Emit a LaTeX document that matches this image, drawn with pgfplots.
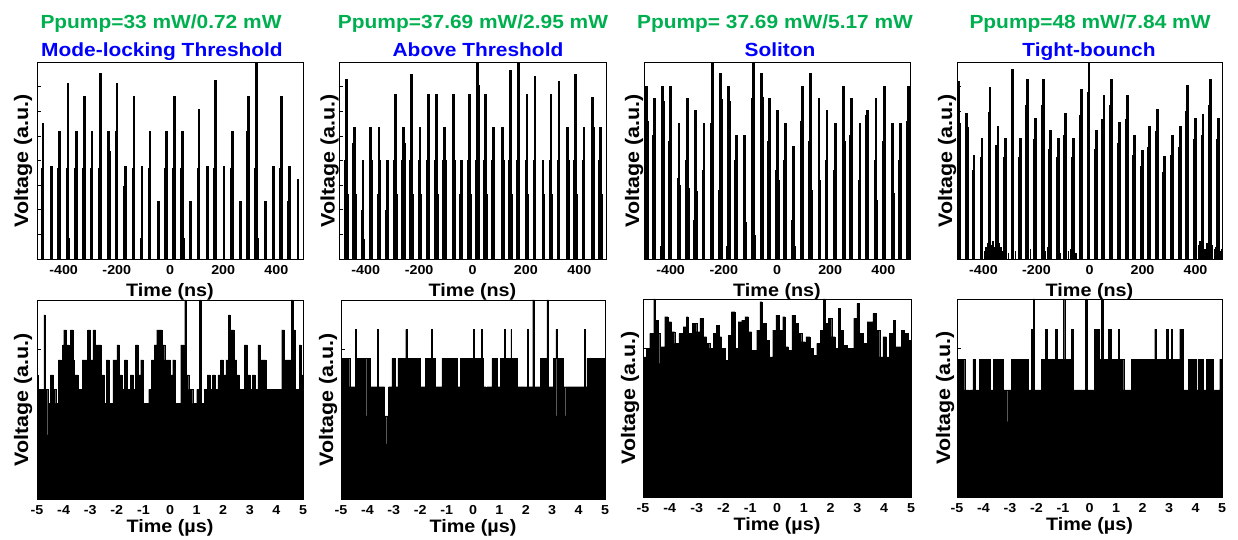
\documentclass[border=0pt]{standalone}
\usepackage{fontspec}
\setmainfont{Liberation Sans}[FakeStretch=1.1]
\usepackage{pgfplots}
\pgfplotsset{compat=1.18}
\definecolor{tgreen}{RGB}{0,176,80}
\definecolor{tblue}{RGB}{0,0,255}
\pgfplotsset{
  panel/.style={scale only axis, anchor=south west, axis line style={line width=0.8pt},
    tick align=inside, ytick pos=left, xtick pos=bottom, yticklabels={},
    xtick style={draw=none}, ytick style={line width=0.6pt, black}, major tick length=4pt,
    ymin=0,
    xticklabel style={font=\fontsize{13}{15}\selectfont\bfseries, anchor=base, yshift=-16pt},
    ylabel={Voltage (a.u.)},
    ylabel style={font=\fontsize{19.5}{22}\selectfont\bfseries, anchor=base},
    xlabel style={font=\fontsize{18}{21}\selectfont\bfseries, at={(axis description cs:0.5,0)}, anchor=base},
  },
  toprow/.style={panel, height=197pt, xmin=-500, xmax=500, ymax=1,
    xtick={-400,-200,0,200,400}, xticklabels={-400,-200,0,200,400},
    ytick={0.125,0.25,0.375,0.5,0.625,0.75,0.875},
    xlabel={Time (ns)}, xlabel style={yshift=-38pt}},
  botrow/.style={panel, xmin=-5, xmax=5, xtick={-5,-4,...,5}, xticklabels={-5,-4,-3,-2,-1,0,1,2,3,4,5},
    xlabel={Time (µs)}, xlabel style={yshift=-34pt}},
  pulse/.style={ycomb, black, line width=2.8pt},
  shoulder/.style={ycomb, black, line width=1.6pt},
  env/.style={const plot, fill=black, draw=black, line width=0.2pt},
}
\begin{document}
\begin{tikzpicture}
\useasboundingbox (0,0) rectangle (1238pt,540pt);
% ---------------- top row ----------------
\begin{axis}[toprow, at={(37pt,281pt)}, width=266pt,
  ylabel style={at={([xshift=-9pt]axis description cs:0,0.5)}}]
\addplot[pulse] coordinates {(-477.4,0.690)(-446.1,0.470)(-414.8,0.648)(-383.5,0.893)(-352.1,0.648)(-322.1,0.826)(-293.2,0.648)(-261.9,0.944)(-230.6,0.648)(-199.2,0.893)(-167.9,0.470)(-135.3,0.826)(-105.3,0.470)(-75.2,0.648)(-43.9,0.293)(-13.8,0.648)(16.3,0.826)(47.6,0.648)(77.7,0.293)(109.0,0.763)(141.6,0.470)(171.7,0.910)(203.0,0.470)(234.3,0.648)(264.4,0.293)(294.5,0.826)(325.8,1.0)(358.4,0.293)(388.5,0.470)(418.5,0.826)(449.9,0.470)(481.2,0.408)};
\addplot[shoulder] coordinates {(-483.4,0.462)(-441.1,0.107)(-420.8,0.462)(-389.5,0.462)(-378.5,0.107)(-358.1,0.462)(-328.1,0.462)(-299.2,0.462)(-267.9,0.462)(-224.6,0.547)(-205.2,0.648)(-173.9,0.369)(-141.3,0.462)(-111.3,0.107)(-81.2,0.462)(-19.8,0.462)(10.3,0.462)(41.6,0.462)(53.6,0.107)(103.0,0.462)(165.7,0.462)(228.3,0.462)(288.5,0.648)(319.8,0.462)(331.8,0.107)(412.5,0.462)(443.9,0.293)};
\end{axis}
\begin{axis}[toprow, at={(339pt,281pt)}, width=267pt,
  ylabel style={at={([xshift=-4.5pt]axis description cs:0,0.5)}}]
\addplot[pulse] coordinates {(-472.5,0.913)(-441.3,0.672)(-410.0,0.505)(-381.3,0.672)(-350.0,0.672)(-318.8,0.505)(-288.8,0.837)(-258.8,0.672)(-227.5,0.939)(-196.3,0.672)(-166.3,0.837)(-135.0,0.837)(-103.8,0.672)(-72.5,0.837)(-42.5,0.505)(-11.3,0.837)(20.0,1.0)(48.8,0.837)(80.0,0.672)(111.3,0.672)(141.3,0.961)(172.5,1.0)(203.8,0.837)(233.8,0.930)(263.8,0.505)(293.8,0.837)(323.8,0.901)(355.0,0.672)(386.3,0.939)(417.5,0.672)(448.8,0.820)(480.0,0.672)};
\addplot[shoulder] coordinates {(-478.5,0.502)(-466.5,0.332)(-447.3,0.587)(-435.3,0.332)(-416.0,0.247)(-404.0,0.100)(-375.3,0.502)(-356.0,0.332)(-344.0,0.502)(-324.8,0.250)(-294.8,0.502)(-282.8,0.332)(-264.8,0.502)(-252.8,0.587)(-233.5,0.502)(-221.5,0.332)(-202.3,0.502)(-190.3,0.332)(-172.3,0.502)(-141.0,0.502)(-129.0,0.332)(-109.8,0.502)(-97.8,0.502)(-66.5,0.502)(-48.5,0.332)(-17.3,0.502)(-5.3,0.332)(14.0,0.502)(26.0,0.884)(42.8,0.502)(54.8,0.332)(74.0,0.502)(117.3,0.502)(135.3,0.502)(147.3,0.332)(166.5,0.502)(197.8,0.502)(209.8,0.332)(227.8,0.502)(269.8,0.332)(287.8,0.502)(299.8,0.332)(317.8,0.502)(361.0,0.502)(380.3,0.502)(392.3,0.332)(411.5,0.502)(454.8,0.672)(474.0,0.502)(486.0,0.332)};
\end{axis}
\begin{axis}[toprow, at={(644pt,281pt)}, width=266pt,
  ylabel style={at={([xshift=-5pt]axis description cs:0,0.5)}}]
\addplot[pulse] coordinates {(-491.2,0.876)(-459.8,0.817)(-429.7,0.876)(-399.6,0.876)(-368.3,0.690)(-336.9,0.817)(-305.5,0.758)(-274.2,0.690)(-244.0,1.0)(-212.7,0.944)(-181.3,0.876)(-152.4,0.631)(-121.1,0.631)(-89.7,1.0)(-58.3,0.944)(-27.0,0.817)(1.9,0.758)(33.3,0.690)(63.4,0.572)(94.7,0.876)(126.1,0.944)(157.5,0.817)(187.6,0.758)(220.2,0.690)(249.1,0.876)(279.2,0.817)(311.8,0.690)(340.7,0.758)(372.0,0.817)(403.4,0.876)(434.8,0.690)(464.9,0.690)(495.0,0.876)};
\addplot[shoulder] coordinates {(-485.2,0.700)(-465.8,0.631)(-435.7,0.064)(-423.7,0.800)(-405.6,0.600)(-374.3,0.410)(-362.3,0.377)(-342.9,0.500)(-330.9,0.360)(-311.5,0.200)(-299.5,0.343)(-280.2,0.450)(-250.0,0.690)(-218.7,0.350)(-206.7,0.810)(-187.3,0.064)(-175.3,0.800)(-158.4,0.500)(-115.1,0.190)(-95.7,0.817)(-83.7,0.124)(-52.3,0.820)(-33.0,0.600)(-4.1,0.450)(7.9,0.400)(27.3,0.500)(57.4,0.200)(69.4,0.064)(88.7,0.700)(120.1,0.600)(132.1,0.350)(163.5,0.403)(181.6,0.500)(214.2,0.450)(255.1,0.600)(273.2,0.631)(305.8,0.400)(334.7,0.733)(366.0,0.500)(378.0,0.300)(397.4,0.600)(440.8,0.335)(458.9,0.500)(489.0,0.700)};
\end{axis}
\begin{axis}[toprow, at={(957pt,281pt)}, width=265pt,
  ylabel style={at={([xshift=-5pt]axis description cs:0,0.5)}}]
\addplot[pulse] coordinates {(-493.7,0.905)(-463.6,0.740)(-436.0,0.527)(-405.9,0.612)(-375.8,0.872)(-345.7,0.677)(-318.1,0.612)(-289.2,0.966)(-261.6,0.612)(-232.7,0.915)(-203.9,0.718)(-175.0,0.915)(-146.2,0.655)(-117.3,0.612)(-89.7,0.740)(-59.6,0.612)(-29.5,0.864)(-1.9,1.0)(27.0,0.655)(54.6,0.830)(83.4,0.915)(112.3,0.697)(142.4,0.833)(170.0,0.629)(198.9,0.553)(227.7,0.675)(256.6,0.762)(284.2,0.522)(314.3,0.629)(341.9,0.675)(370.8,0.884)(400.9,0.718)(428.5,0.736)(457.3,0.915)(486.2,0.718)};
\addplot[shoulder] coordinates {(-487.7,0.689)(-457.6,0.672)(-442.0,0.450)(-412.0,0.520)(-381.8,0.748)(-352.0,0.580)(-324.0,0.520)(-295.0,0.820)(-268.0,0.520)(-239.0,0.780)(-210.0,0.610)(-181.0,0.780)(-152.0,0.560)(-123.0,0.520)(-96.0,0.630)(-66.0,0.520)(-36.0,0.730)(-8.0,0.850)(21.0,0.560)(48.0,0.710)(77.0,0.780)(106.0,0.590)(136.0,0.710)(164.0,0.530)(193.0,0.470)(221.0,0.570)(250.0,0.650)(278.0,0.440)(308.0,0.530)(336.0,0.570)(365.0,0.750)(395.0,0.610)(422.0,0.630)(451.0,0.780)(480.0,0.610)};
\addplot[shoulder] coordinates {(-396,0.04)(-390,0.06)(-384,0.08)(-378,0.05)(-370,0.07)(-364,0.09)(-357,0.06)(-350,0.05)(-340,0.08)(-333,0.06)(-326,0.04)(-314,0.05)(-306,0.03)(-280,0.04)(-236,0.03)(-222,0.05)(-166,0.04)(-158,0.06)(-150,0.04)(-110,0.03)(-80,0.04)(-70,0.05)(-52,0.03)(404,0.05)(411,0.07)(418,0.09)(425,0.06)(436,0.05)(444,0.08)(451,0.06)(464,0.07)(471,0.05)(478,0.06)(492,0.04)(498,0.05)};
\end{axis}
% ---------------- bottom row ----------------
\begin{axis}[botrow, at={(37pt,41pt)}, width=266pt, height=199pt, ymax=597, ytick={149,298,448},
  ylabel style={at={([xshift=-9pt]axis description cs:0,0.5)}}]
\addplot[env] coordinates {(-5.00,372)(-4.96,329)(-4.74,552)(-4.69,329)(-4.60,192)(-4.58,287)(-4.50,372)(-4.40,329)(-4.30,287)(-4.20,417)(-4.10,329)(-4.06,192)(-4.04,462)(-4.00,507)(-3.90,462)(-3.80,329)(-3.75,507)(-3.65,417)(-3.60,372)(-3.45,329)(-3.30,417)(-3.10,507)(-3.00,417)(-2.90,507)(-2.80,462)(-2.60,372)(-2.48,287)(-2.40,417)(-2.30,287)(-2.15,417)(-2.00,462)(-1.90,197)(-1.88,372)(-1.80,329)(-1.72,417)(-1.60,329)(-1.50,372)(-1.40,329)(-1.30,462)(-1.20,372)(-1.10,417)(-1.00,287)(-0.80,329)(-0.72,242)(-0.70,417)(-0.60,462)(-0.50,507)(-0.30,462)(-0.20,417)(0.00,372)(0.10,417)(0.20,287)(0.40,462)(0.52,372)(0.55,597)(0.61,372)(0.70,329)(0.85,287)(1.00,329)(1.10,597)(1.17,287)(1.30,329)(1.40,372)(1.50,329)(1.58,242)(1.60,372)(1.70,329)(1.80,372)(1.90,417)(2.00,372)(2.10,417)(2.19,552)(2.25,507)(2.40,417)(2.50,372)(2.60,329)(2.80,462)(2.90,372)(3.00,329)(3.10,372)(3.20,329)(3.30,462)(3.40,417)(3.60,329)(4.20,507)(4.30,417)(4.55,597)(4.62,507)(4.70,329)(4.85,462)(4.92,372)(5.00,372)} \closedcycle;
\end{axis}
\begin{axis}[botrow, at={(341pt,41pt)}, width=264pt, height=199pt, ymax=597, ytick={149,298,448},
  ylabel style={at={([xshift=-8pt]axis description cs:0,0.5)}}]
\addplot[env] coordinates {(-5.00,422)(-4.84,337)(-4.80,422)(-4.67,337)(-4.45,509)(-4.41,422)(-4.25,249)(-4.23,422)(-4.03,249)(-4.01,422)(-3.89,337)(-3.62,509)(-3.58,337)(-3.35,249)(-3.27,165)(-3.25,249)(-3.20,337)(-3.07,422)(-2.94,337)(-2.85,422)(-2.55,509)(-2.51,422)(-2.00,337)(-1.81,422)(-1.73,249)(-1.71,422)(-1.59,509)(-1.56,422)(-1.43,337)(-1.18,422)(-0.61,337)(-0.49,422)(0.01,509)(0.04,422)(0.32,509)(0.35,422)(0.40,337)(0.50,249)(0.53,337)(0.71,422)(0.90,337)(1.03,422)(1.18,509)(1.21,422)(1.43,509)(1.46,422)(1.66,337)(1.96,249)(1.98,337)(2.05,509)(2.08,337)(2.26,597)(2.33,337)(2.54,422)(2.80,597)(2.86,337)(3.05,422)(3.14,509)(3.17,249)(3.19,422)(3.42,337)(3.51,249)(3.53,337)(4.22,509)(4.25,337)(4.31,422)(5.00,422)} \closedcycle;
\end{axis}
\begin{axis}[botrow, at={(643pt,43pt)}, width=268pt, height=198pt, ymax=593, ytick={148,296,445},
  ylabel style={at={([xshift=-8pt]axis description cs:0,0.5)}}]
\addplot[env] coordinates {(-5.00,420)(-4.88,445)(-4.75,490)(-4.60,593)(-4.55,530)(-4.44,490)(-4.38,400)(-4.35,450)(-4.19,540)(-4.06,525)(-3.94,495)(-3.82,460)(-3.69,385)(-3.66,490)(-3.50,510)(-3.38,540)(-3.32,490)(-3.19,380)(-3.16,520)(-3.00,495)(-2.88,535)(-2.76,480)(-2.63,460)(-2.51,445)(-2.38,490)(-2.26,515)(-2.16,480)(-2.07,445)(-1.95,410)(-1.82,485)(-1.70,555)(-1.57,445)(-1.45,525)(-1.32,530)(-1.20,540)(-1.07,495)(-0.95,390)(-0.92,440)(-0.76,500)(-0.64,585)(-0.56,520)(-0.41,470)(-0.29,420)(-0.16,500)(-0.04,545)(0.09,500)(0.21,540)(0.30,450)(0.42,440)(0.55,545)(0.67,520)(0.80,490)(0.92,465)(1.05,390)(1.08,480)(1.23,445)(1.36,425)(1.48,460)(1.61,500)(1.73,593)(1.80,520)(1.92,535)(2.04,480)(2.17,445)(2.29,565)(2.35,500)(2.48,455)(2.61,385)(2.64,445)(2.86,535)(2.98,580)(3.05,490)(3.20,460)(3.33,390)(3.36,525)(3.58,550)(3.70,500)(3.83,420)(3.95,480)(4.08,420)(4.20,490)(4.33,530)(4.41,385)(4.44,450)(4.63,500)(4.75,490)(4.88,470)(5.00,470)} \closedcycle;
\end{axis}
\begin{axis}[botrow, at={(957pt,43pt)}, width=265pt, height=198pt, ymax=592, ytick={148,296,444},
  ylabel style={at={([xshift=-7pt]axis description cs:0,0.5)}}]
\addplot[env] coordinates {(-5.00,412)(-4.71,320)(-4.55,225)(-4.53,135)(-4.51,320)(-4.40,412)(-4.33,320)(-4.21,225)(-4.19,320)(-4.17,412)(-3.74,225)(-3.72,320)(-3.64,412)(-3.26,320)(-3.09,225)(-3.07,320)(-2.95,412)(-2.32,320)(-2.19,502)(-2.13,592)(-2.08,320)(-1.82,412)(-1.66,502)(-1.60,412)(-1.28,502)(-1.22,412)(-0.99,592)(-0.94,412)(-0.68,502)(-0.63,320)(-0.51,135)(-0.49,320)(-0.29,225)(-0.27,320)(-0.15,592)(-0.09,225)(-0.06,320)(0.19,502)(0.36,412)(0.45,592)(0.51,412)(0.70,502)(0.82,412)(1.08,502)(1.13,412)(1.29,320)(1.58,412)(2.32,225)(2.34,412)(2.46,502)(2.51,412)(2.90,502)(2.96,412)(3.08,502)(3.12,412)(3.40,502)(3.55,320)(3.72,412)(4.03,320)(4.09,412)(4.19,225)(4.21,412)(4.28,320)(4.41,412)(4.66,320)(4.91,412)(5.00,412)} \closedcycle;
\end{axis}
% ---------------- titles ----------------
\begin{scope}[every node/.style={anchor=base, font=\fontsize{19}{22}\selectfont\bfseries}]
\node[text=tgreen] at (161pt,511pt) {Ppump=33 mW/0.72 mW};
\node[text=tblue]  at (162pt,483pt) {Mode-locking Threshold};
\node[text=tgreen] at (473pt,511pt) {Ppump=37.69 mW/2.95 mW};
\node[text=tblue]  at (478pt,483pt) {Above Threshold};
\node[text=tgreen] at (775pt,511pt) {Ppump= 37.69 mW/5.17 mW};
\node[text=tblue]  at (780pt,483pt) {Soliton};
\node[text=tgreen] at (1090pt,511pt) {Ppump=48 mW/7.84 mW};
\node[text=tblue]  at (1089pt,483pt) {Tight-bounch};
\end{scope}
\end{tikzpicture}
\end{document}
